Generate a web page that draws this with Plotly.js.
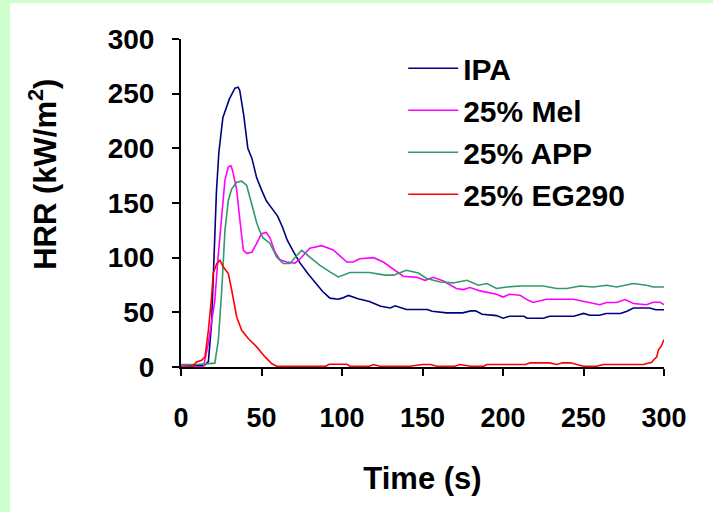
<!DOCTYPE html>
<html>
<head>
<meta charset="utf-8">
<script src="https://cdn.plot.ly/plotly-3.0.1.min.js"></script>
<style>
  html, body { margin: 0; padding: 0; background: #ccffcc; width: 713px; height: 512px; overflow: hidden; }
  #chart { position: absolute; left: 10px; top: 3px; width: 703px; height: 509px; background: #ffffff; }
</style>
</head>
<body>
<div id="chart"></div>
<script>
// ---- Data ----
const seriesNames = ["IPA", "25% Mel", "25% APP", "25% EG290"];

const ipaTime = [0, 10, 15, 17, 19, 21, 22, 23.5, 26, 30, 33.5, 35.5, 36.5, 39, 41.5, 44, 47, 50, 53, 56, 60, 63, 66, 70, 74, 79, 84, 88, 92.5, 97.5, 100, 104, 110, 117, 124, 130, 133, 140, 153, 156, 165, 175, 180, 183, 187, 196, 200, 204, 213, 215, 225, 229, 244, 250, 254, 260, 264, 273, 277, 281, 291, 295, 300];
const ipaHRR  = [2, 1, 2, 5, 40, 120, 160, 196, 228, 245, 255, 256, 253, 230, 200, 191, 173, 162, 152, 146, 138, 128, 116, 105, 95, 85, 76, 69, 63, 62, 63, 65.5, 62.5, 60, 55.5, 54, 56, 52.6, 52.6, 51, 49.5, 49.5, 51.3, 51.3, 48.3, 47, 44.6, 46.4, 46.4, 44.6, 44.6, 46.4, 46.4, 49, 47.3, 47.3, 49, 49, 51, 54, 54, 52.4, 52.4];

const melTime = [0, 10, 14, 17, 21, 23, 25, 27.3, 29.4, 31, 32, 34.6, 36.6, 38.7, 40.8, 44, 47, 50, 53, 55.3, 58.4, 61.5, 65.6, 70.8, 74, 80, 87.4, 94.6, 103, 107, 111, 119.5, 125.7, 132, 138, 146.4, 151.6, 156.7, 163, 171, 175.4, 179.5, 185.7, 196, 200, 204, 210.6, 215.7, 218.8, 227, 243.7, 252, 260, 264.4, 270.6, 275.8, 281, 289, 293.4, 297.5, 300];
const melHRR  = [1, 0, 0, 22, 61, 100, 135, 171, 183, 184, 180, 162, 134, 107, 104, 105, 113, 122, 123, 118, 105, 98, 96, 95, 99, 108.6, 111, 107, 96, 96, 99, 100, 96, 89.4, 83, 82, 79.3, 82, 78.7, 71.8, 70.8, 72.7, 69.6, 66.5, 64, 66.5, 65.6, 61, 59, 62, 62, 59.5, 57, 59, 59, 61.7, 58, 57, 59.2, 59.2, 57];

const appTime = [0, 10, 21, 23.2, 25.3, 27.3, 29.4, 31.5, 34.6, 37.7, 40.8, 43.9, 47, 49, 51, 55.3, 59.4, 63.5, 67.7, 71.9, 75, 80, 86.3, 92.5, 97.7, 105, 117, 126.7, 132, 140, 147.4, 152.6, 161, 169, 177.5, 184.7, 190, 196, 202.4, 210.6, 225, 233.4, 239.6, 247.8, 256, 264.4, 270.6, 281, 289, 293.4, 300];
const appHRR  = [2.3, 2.3, 3.5, 24.5, 70, 125, 152.5, 163, 169, 170, 166, 149.5, 132, 124, 118, 113, 100.6, 94.6, 94.6, 102, 106.7, 100.6, 93, 87, 82.4, 86.4, 86.4, 84, 84, 88.5, 86, 81, 77.8, 76.9, 79.3, 74.8, 76.3, 71.8, 73.2, 74.1, 74.1, 71.8, 71.8, 74.1, 73.2, 74.8, 73.2, 76.3, 74.8, 73.2, 73.2];

const egTime = [0, 6.6, 9.7, 12.8, 14.9, 17, 19, 20, 22.2, 24.2, 26.3, 29.4, 31.5, 34.6, 37.7, 41.8, 47, 52.2, 56.3, 59.4, 90, 92, 103, 105, 117, 119.5, 123.6, 142, 150, 155, 158.8, 170, 173.3, 180, 188, 190, 214, 216.8, 229, 233.4, 237, 242, 245.8, 250, 258, 262.3, 287.2, 292.4, 293.4, 295.5, 296.5, 298.6, 300];
const egHRR  = [0, 0, 4.6, 6.2, 9.2, 33.6, 64, 85.5, 94.6, 97.6, 91.5, 85.5, 70.2, 45.8, 33.6, 26, 18.4, 9.2, 3.2, 0.7, 0.7, 2.5, 2.5, 0.7, 0.7, 2.3, 0.7, 0.7, 2.3, 2.3, 0.7, 0.7, 2.3, 0.7, 0.7, 2.3, 2.3, 3.8, 3.8, 2.3, 3.8, 3.8, 2.3, 0.7, 0.7, 2.3, 2.3, 4.4, 6.2, 9.2, 15.4, 20, 25.2];

const tickVals = [0, 50, 100, 150, 200, 250, 300];
const tickText = ["0", "50", "100", "150", "200", "250", "300"];

const xTitle = "Time (s)";
const yTitle = "HRR (kW/m<sup>2</sup>)";

// ---- Styles ----
const colors = ["#000080", "#ff00ff", "#339966", "#ff0000"];
const FONT = "Liberation Sans, Arial, sans-serif";

const xs = [ipaTime, melTime, appTime, egTime];
const ys = [ipaHRR, melHRR, appHRR, egHRR];

const traces = seriesNames.map((n, i) => ({
  type: "scatter",
  mode: "lines",
  name: n,
  x: xs[i],
  y: ys[i],
  line: { color: colors[i], width: 1.6 }
}));

const axisCommon = {
  range: [0, 300],
  tickvals: tickVals,
  ticktext: tickText,
  showgrid: false,
  zeroline: false,
  showline: true,
  linecolor: "#000000",
  linewidth: 2,
  ticks: "outside",
  ticklen: 7,
  tickwidth: 2,
  tickcolor: "#000000",
  tickfont: { family: FONT, size: 27, color: "#000000", weight: "bold" },
  fixedrange: true
};

const layout = {
  width: 703,
  height: 509,
  paper_bgcolor: "#ffffff",
  plot_bgcolor: "#ffffff",
  margin: { l: 171, r: 49, t: 36, b: 145 },
  showlegend: true,
  legend: {
    x: 0.46, y: 0.99, xanchor: "left", yanchor: "top",
    bgcolor: "rgba(0,0,0,0)",
    font: { family: FONT, size: 30, color: "#000000", weight: "bold" },
    itemwidth: 50,
    tracegroupgap: 0
  },
  xaxis: Object.assign({}, axisCommon, {
    ticklabelstandoff: 19,
    title: { text: xTitle, font: { family: FONT, size: 31, color: "#000000", weight: "bold" }, standoff: 35 }
  }),
  yaxis: Object.assign({}, axisCommon, {
    ticklabelstandoff: 12,
    tickfont: { family: FONT, size: 28, color: "#000000", weight: "bold" }
  }),
  annotations: [{
    text: yTitle,
    xref: "paper", yref: "paper",
    x: -0.285, y: 0.587,
    xanchor: "center", yanchor: "middle",
    textangle: -90,
    showarrow: false,
    font: { family: FONT, size: 31, color: "#000000", weight: "bold" }
  }]
};

Plotly.newPlot("chart", traces, layout, { displayModeBar: false, staticPlot: true });
</script>
</body>
</html>
